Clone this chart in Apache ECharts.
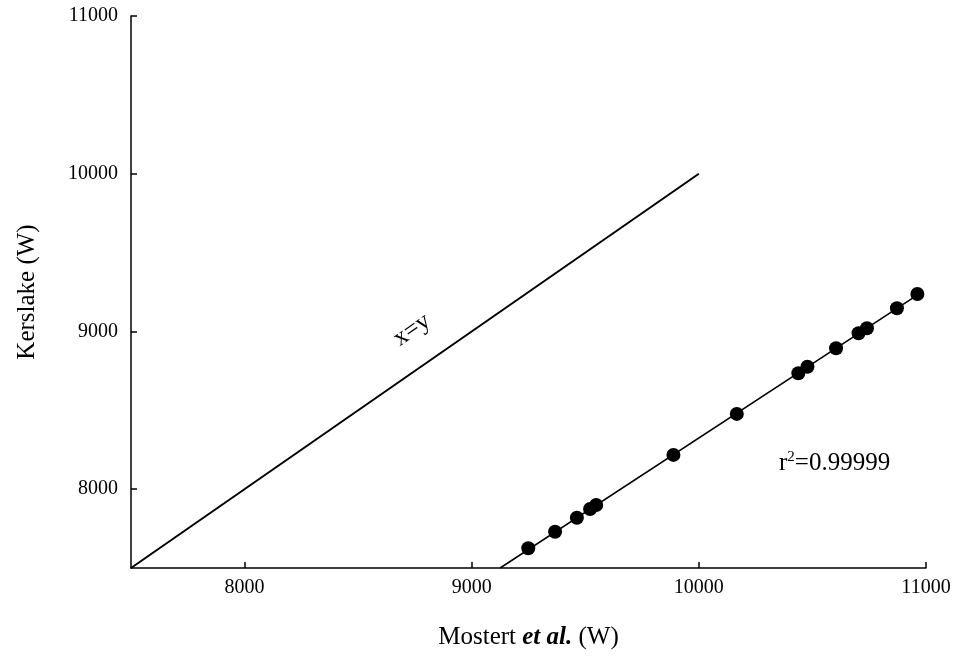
<!DOCTYPE html>
<html>
<head>
<meta charset="utf-8">
<script src="https://cdn.jsdelivr.net/npm/echarts@6/dist/echarts.min.js"></script>
<style>html,body{margin:0;padding:0;background:#fff;}#c{width:958px;height:656px;}</style>
</head>
<body>
<div id="c"></div>
<script>
// Data
const mostert = [9249, 9367, 9463, 9521, 9548, 9888, 10167, 10438, 10478, 10604, 10703, 10740, 10872, 10962];
const kerslake = [7625, 7730, 7819, 7874, 7899, 8217, 8477, 8735, 8776, 8893, 8988, 9020, 9147, 9237];
const identityLine = [[7500, 7500], [10000, 10000]];
const fitLine = [[9125, 7500], [10985, 9253]];
const axisRange = [7500, 11000];
const xTickValues = [8000, 9000, 10000, 11000];
const yTickValues = [8000, 9000, 10000, 11000];
const identityLabelPos = [8737, 9009];
const r2LabelPos = [10353, 8166];
const r2Text = "0.99999";

const font = "Liberation Serif";
const chart = echarts.init(document.getElementById('c'));
const points = mostert.map((x, i) => [x, kerslake[i]]);

chart.setOption({
  animation: false,
  backgroundColor: '#fff',
  grid: { left: 131, right: 32, top: 16, bottom: 88 },
  xAxis: {
    type: 'value', min: axisRange[0], max: axisRange[1],
    axisLine: { show: true, lineStyle: { color: '#000', width: 1.5 } },
    axisTick: { show: true, inside: true, length: 6, customValues: xTickValues, lineStyle: { color: '#000', width: 1.5 } },
    axisLabel: { color: '#000', fontFamily: font, fontSize: 20, margin: 10, customValues: xTickValues, formatter: v => String(v) },
    splitLine: { show: false },
    name: '{n|Mostert }{b|et al.}{n| (W)}',
    nameLocation: 'middle', nameGap: 57,
    nameTextStyle: {
      rich: {
        n: { fontFamily: font, fontSize: 25, color: '#000' },
        b: { fontFamily: font, fontSize: 25, color: '#000', fontWeight: 'bold', fontStyle: 'italic' }
      }
    }
  },
  yAxis: {
    type: 'value', min: axisRange[0], max: axisRange[1],
    axisLine: { show: true, lineStyle: { color: '#000', width: 1.5 } },
    axisTick: { show: true, inside: true, length: 6, customValues: yTickValues, lineStyle: { color: '#000', width: 1.5 } },
    axisLabel: { color: '#000', fontFamily: font, fontSize: 20, margin: 13, customValues: yTickValues, formatter: v => String(v) },
    splitLine: { show: false },
    name: 'Kerslake (W)', nameLocation: 'middle', nameGap: 91,
    nameTextStyle: { fontFamily: font, fontSize: 25, color: '#000' }
  },
  series: [
    {
      type: 'line', data: identityLine, symbol: 'none',
      lineStyle: { color: '#000', width: 2 }, silent: true
    },
    {
      type: 'line', data: fitLine, symbol: 'none',
      lineStyle: { color: '#000', width: 1.5 }, silent: true
    },
    {
      type: 'scatter', data: points, symbol: 'circle', symbolSize: 14,
      itemStyle: { color: '#000', opacity: 1 }
    },
    {
      type: 'scatter', data: [identityLabelPos], symbolSize: 0,
      itemStyle: { opacity: 1 },
      label: {
        show: true, position: 'inside', formatter: 'x=y', rotate: 35,
        fontFamily: font, fontSize: 25, color: '#000', opacity: 1
      }
    },
    {
      type: 'scatter', data: [r2LabelPos], symbolSize: 0,
      itemStyle: { opacity: 1 },
      label: {
        show: true, position: 'right', distance: 0, opacity: 1,
        formatter: '{a|r}{s|2}{a|=' + r2Text + '}',
        rich: {
          a: { fontFamily: font, fontSize: 25, color: '#000' },
          s: { fontFamily: font, fontSize: 15, color: '#000', verticalAlign: 'top', padding: [0, 0, 12, 0] }
        }
      }
    }
  ]
});
</script>
</body>
</html>
